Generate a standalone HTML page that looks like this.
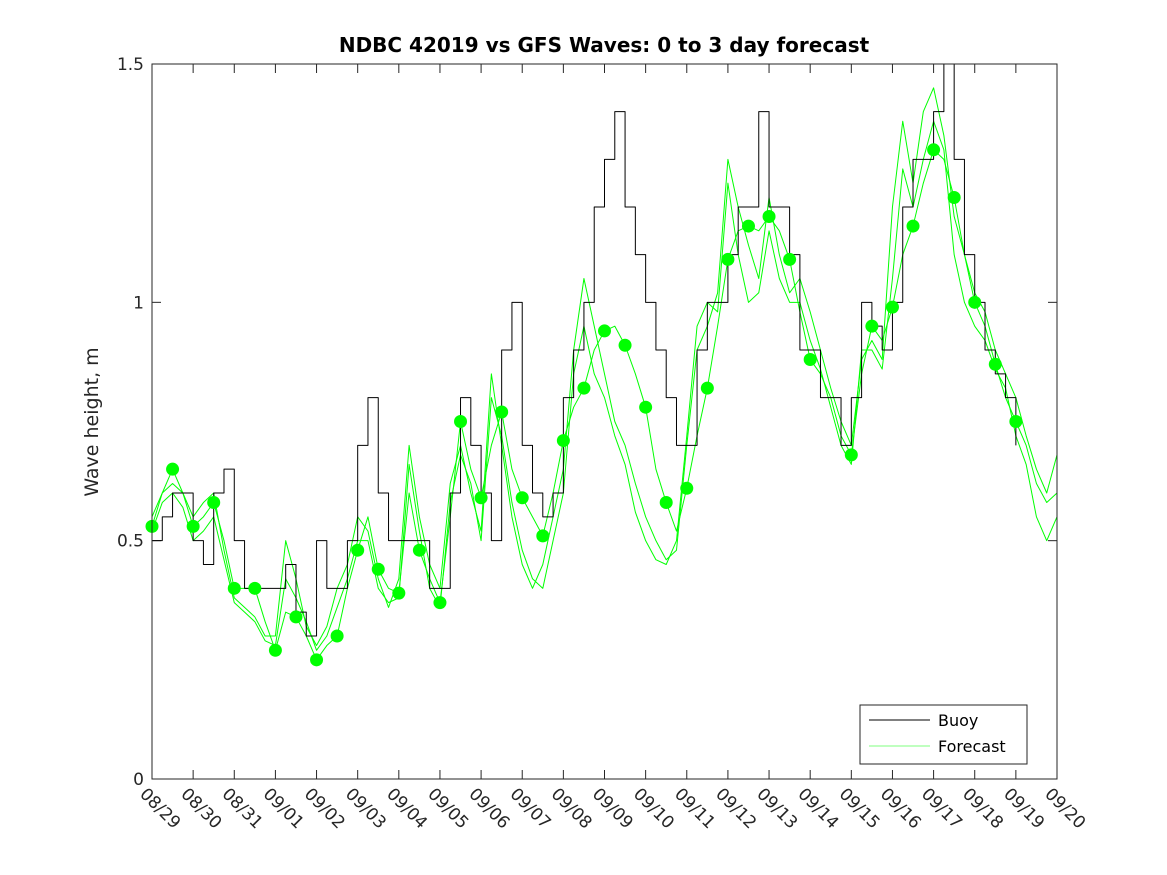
<!DOCTYPE html>
<html><head><meta charset="utf-8"><style>
html,body{margin:0;padding:0;background:#fff;}
svg{display:block;font-family:"DejaVu Sans","Liberation Sans",sans-serif;}
</style></head><body>
<svg id="chart" width="1167" height="875" viewBox="0 0 1167 875">
<rect width="1167" height="875" fill="#fff"/>
<text x="604" y="52" text-anchor="middle" font-size="20" font-weight="bold" fill="#000">NDBC 42019 vs GFS Waves: 0 to 3 day forecast</text>
<text transform="translate(98,422) rotate(-90)" text-anchor="middle" font-size="19" fill="#262626">Wave height, m</text>
<g id="plot"></g>
<rect x="152" y="64" width="905" height="715" fill="none" stroke="#262626" stroke-width="1"/>
<g>
<rect x="860" y="705" width="167" height="59" fill="#fff" stroke="#262626"/>
<line x1="869" y1="720" x2="930" y2="720" stroke="#000"/>
<text x="938" y="726" font-size="16" fill="#000">Buoy</text>
<line x1="869" y1="746" x2="930" y2="746" stroke="#00ff00" stroke-width="0.6"/>
<text x="938" y="752" font-size="16" fill="#000">Forecast</text>
</g>
</svg>
<script>
const dateLabels=["08/29","08/30","08/31","09/01","09/02","09/03","09/04","09/05","09/06","09/07","09/08","09/09","09/10","09/11","09/12","09/13","09/14","09/15","09/16","09/17","09/18","09/19","09/20"];
const yTicks=[0,0.5,1,1.5];
const yTickLabels=["0","0.5","1","1.5"];
// buoy values every 6 hours from 08/29 00Z
const buoy=[0.5,0.55,0.6,0.6, 0.5,0.45,0.6,0.65, 0.5,0.4,0.4,0.4, 0.4,0.45,0.35,0.3, 0.5,0.4,0.4,0.5, 0.7,0.8,0.6,0.5, 0.5,0.5,0.5,0.4, 0.4,0.6,0.8,0.7, 0.6,0.5,0.9,1.0, 0.7,0.6,0.55,0.6, 0.8,0.9,1.0,1.2, 1.3,1.4,1.2,1.1, 1.0,0.9,0.8,0.7, 0.7,0.9,1.0,1.0, 1.1,1.2,1.2,1.4, 1.2,1.2,1.1,0.9, 0.9,0.8,0.8,0.7, 0.8,1.0,0.95,0.9, 1.0,1.2,1.3,1.3, 1.4,1.5,1.3,1.1, 1.0,0.9,0.85,0.8, 0.7];
// forecast runs every 6 hours
const fcA=[0.53,0.6,0.65,0.6, 0.53,0.55,0.58,0.5, 0.40,0.40,0.40,0.33, 0.27,0.35,0.34,0.30, 0.25,0.28,0.30,0.4, 0.48,0.55,0.44,0.40, 0.39,0.6,0.48,0.42, 0.37,0.55,0.75,0.65, 0.59,0.7,0.77,0.65, 0.59,0.55,0.51,0.6, 0.71,0.78,0.82,0.9, 0.94,0.95,0.91,0.85, 0.78,0.65,0.58,0.52, 0.61,0.72,0.82,0.95, 1.09,1.15,1.16,1.15, 1.18,1.15,1.09,0.98, 0.88,0.85,0.80,0.72, 0.68,0.85,0.95,0.92, 0.99,1.1,1.16,1.25, 1.32,1.3,1.22,1.1, 1.0,0.95,0.87,0.8, 0.75,0.7,0.62,0.58, 0.6];
const fcB=[0.55,0.6,0.62,0.6, 0.55,0.58,0.6,0.48, 0.38,0.36,0.34,0.30, 0.30,0.50,0.42,0.32, 0.28,0.32,0.40,0.45, 0.55,0.52,0.42,0.36, 0.42,0.70,0.55,0.45, 0.40,0.62,0.70,0.60, 0.52,0.85,0.70,0.55, 0.45,0.40,0.45,0.55, 0.65,0.90,1.05,0.95, 0.85,0.75,0.70,0.62, 0.55,0.50,0.46,0.48, 0.70,0.90,0.95,1.02, 1.30,1.20,1.12,1.05, 1.22,1.10,1.02,1.05, 0.98,0.90,0.82,0.75, 0.70,0.88,0.92,0.88, 1.20,1.38,1.25,1.40, 1.45,1.35,1.18,1.10, 1.02,0.98,0.90,0.85, 0.80,0.72,0.65,0.60, 0.68];
const fcC=[0.52,0.58,0.6,0.57, 0.5,0.52,0.55,0.46, 0.37,0.35,0.33,0.29, 0.28,0.42,0.38,0.33, 0.27,0.30,0.36,0.42, 0.50,0.50,0.40,0.37, 0.38,0.66,0.52,0.40, 0.36,0.58,0.68,0.62, 0.50,0.80,0.72,0.58, 0.48,0.42,0.40,0.50, 0.60,0.85,0.95,0.85, 0.80,0.72,0.66,0.56, 0.50,0.46,0.45,0.50, 0.72,0.95,1.0,0.98, 1.25,1.10,1.00,1.02, 1.15,1.05,1.00,1.00, 0.92,0.86,0.78,0.70, 0.66,0.90,0.90,0.86, 1.05,1.28,1.20,1.30, 1.38,1.32,1.10,1.00, 0.95,0.92,0.86,0.82, 0.72,0.66,0.55,0.50, 0.55];
// 12-hourly analysis dots
const dots=[0.53,0.65,0.53,0.58,0.40,0.40,0.27,0.34,0.25,0.30,0.48,0.44,0.39,0.48,0.37,0.75,0.59,0.77,0.59,0.51,0.71,0.82,0.94,0.91,0.78,0.58,0.61,0.82,1.09,1.16,1.18,1.09,0.88,null,0.68,0.95,0.99,1.16,1.32,1.22,1.00,0.87,0.75];

const X0=152,X1=1057,Y0=779,Y1=64;
const xs=d=>X0+(X1-X0)*d/22;
const ys=v=>Y0-(Y0-Y1)*v/1.5;
const NS="http://www.w3.org/2000/svg";
const plot=document.getElementById('plot');
function mk(t,a){const e=document.createElementNS(NS,t);for(const k in a)e.setAttribute(k,a[k]);return e;}

yTicks.forEach((v,i)=>{
  const y=ys(v);
  const t1=mk('line',{x1:X0,y1:y,x2:X0+9,y2:y,stroke:'#262626'});
  
  
  plot.appendChild(t1);
  const t2=mk('line',{x1:X1,y1:y,x2:X1-9,y2:y,stroke:'#262626'});
  
  
  plot.appendChild(t2);
  const tx=mk('text',{x:X0-8,y:y+6,'text-anchor':'end','font-size':17,fill:'#262626'});
  tx.textContent=yTickLabels[i];
  
  
  plot.appendChild(tx);
});
dateLabels.forEach((s,i)=>{
  const x=xs(i);
  const t1=mk('line',{x1:x,y1:Y0,x2:x,y2:Y0-9,stroke:'#262626'});
  
  
  plot.appendChild(t1);
  const t2=mk('line',{x1:x,y1:Y1,x2:x,y2:Y1+9,stroke:'#262626'});
  
  
  plot.appendChild(t2);
  const tx=mk('text',{x:0,y:0,'font-size':17,fill:'#262626',transform:`translate(${x-13},${Y0+16}) rotate(45)`});
  tx.textContent=s;
  
  
  plot.appendChild(tx);
});
function line(arr,color,w,name,step){
  let d='';
  arr.forEach((v,i)=>{
    const x=xs(i/4),y=ys(v);
    if(i===0)d+=`M${x},${y}`;
    else if(step)d+=`H${x}V${y}`;
    else d+=`L${x},${y}`;
  });
  const p=mk('path',{d:d,fill:'none',stroke:color,'stroke-width':w,'stroke-linejoin':'round'});
  
  
  plot.appendChild(p);
}
line(fcB,'#00ff00',1,'forecast-run-b',false);
line(fcC,'#00ff00',1,'forecast-run-c',false);
line(fcA,'#00ff00',1,'forecast-run-a',false);
line(buoy,'#000',1,'buoy-line',true);
dots.forEach((v,i)=>{
  if(v===null)return;
  const c=mk('circle',{cx:xs(i/2),cy:ys(v),r:6.5,fill:'#00ff00'});
  
  
  plot.appendChild(c);
});
</script>
</body></html>
